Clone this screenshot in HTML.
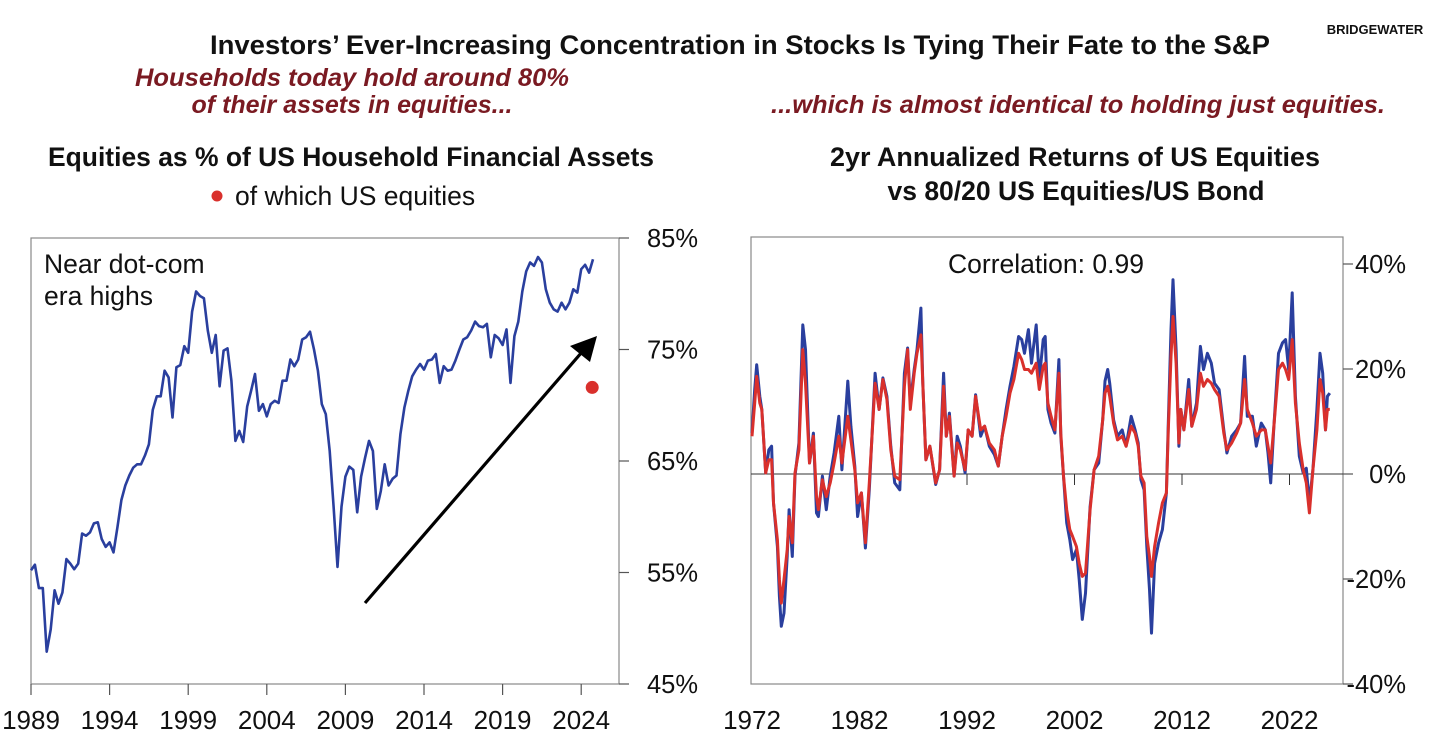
<!DOCTYPE html>
<html><head><meta charset="utf-8">
<style>
body{margin:0;background:#fff;width:1456px;height:747px;overflow:hidden;font-family:"Liberation Sans",sans-serif;}
svg{display:block}
</style></head>
<body>
<svg id="chart" width="1456" height="747" xmlns="http://www.w3.org/2000/svg">
<text x="740" y="54" text-anchor="middle" font-size="26.5" font-weight="bold" fill="#111" textLength="1060" lengthAdjust="spacingAndGlyphs">Investors’ Ever-Increasing Concentration in Stocks Is Tying Their Fate to the S&amp;P</text>
<text x="1375" y="34" text-anchor="middle" font-size="13" font-weight="bold" fill="#111">BRIDGEWATER</text>
<text x="352" y="86" text-anchor="middle" font-size="25" font-weight="bold" font-style="italic" fill="#7a1a22" textLength="434" lengthAdjust="spacingAndGlyphs">Households today hold around 80%</text>
<text x="352" y="113" text-anchor="middle" font-size="25" font-weight="bold" font-style="italic" fill="#7a1a22">of their assets in equities...</text>
<text x="1078" y="113" text-anchor="middle" font-size="25" font-weight="bold" font-style="italic" fill="#7a1a22" textLength="614" lengthAdjust="spacingAndGlyphs">...which is almost identical to holding just equities.</text>
<text x="351" y="166" text-anchor="middle" font-size="26.5" font-weight="bold" fill="#111" textLength="606" lengthAdjust="spacingAndGlyphs">Equities as % of US Household Financial Assets</text>
<circle cx="217" cy="196" r="5.5" fill="#d9302c"/>
<text x="235" y="205" font-size="26.5" fill="#111">of which US equities</text>
<text x="1075" y="166" text-anchor="middle" font-size="26.5" font-weight="bold" fill="#111" textLength="490" lengthAdjust="spacingAndGlyphs">2yr Annualized Returns of US Equities</text>
<text x="1076" y="200" text-anchor="middle" font-size="26.5" font-weight="bold" fill="#111">vs 80/20 US Equities/US Bond</text>
<g id="left"></g>
<g id="right"></g>
</svg>
<script>
// ---- Left chart data (quarterly from 1989 Q1) ----
const leftStartYear = 1989;
const leftValues = [55.2,55.7,53.6,53.6,47.9,49.9,53.4,52.2,53.2,56.2,55.8,55.3,55.8,58.5,58.3,58.6,59.4,59.5,58.0,57.3,57.7,56.8,59.1,61.5,62.8,63.7,64.4,64.7,64.7,65.5,66.5,69.6,70.8,70.8,73.1,72.5,68.9,73.4,73.6,75.3,74.7,78.4,80.2,79.8,79.6,76.7,74.7,76.3,71.7,74.9,75.1,72.2,66.8,67.7,66.7,69.9,71.3,72.8,69.5,70.1,69.0,70.1,70.4,70.2,72.2,72.2,74.1,73.5,74.1,75.9,76.1,76.6,75.0,73.1,70.1,69.2,65.9,60.9,55.5,60.9,63.6,64.5,64.2,60.4,63.6,65.3,66.8,65.9,60.7,62.3,64.7,62.8,63.4,63.7,67.4,69.8,71.3,72.6,73.2,73.7,73.2,74.0,74.1,74.6,72.0,73.5,73.1,73.2,74.0,75.0,75.9,76.1,76.7,77.5,77.1,77.0,77.3,74.3,76.3,76.0,75.4,76.8,72.0,76.2,77.5,80.2,82.0,82.8,82.5,83.3,82.8,80.4,79.2,78.6,78.4,79.2,78.6,79.2,80.4,80.1,82.2,82.6,81.9,83.1];
const usEqYear = [2024.7];
const usEqValue = [71.6];
const leftYTicks = [85,75,65,55,45];
const leftXTicks = [1989,1994,1999,2004,2009,2014,2019,2024];

// ---- Right chart data ----
const rightYears = [1972.00,1972.25,1972.44,1972.73,1972.91,1973.27,1973.56,1973.82,1974.00,1974.36,1974.55,1974.73,1974.98,1975.27,1975.45,1975.75,1976.00,1976.36,1976.73,1976.98,1977.35,1977.71,1978.00,1978.18,1978.55,1978.91,1979.27,1979.64,1980.07,1980.36,1980.91,1981.20,1981.56,1981.82,1982.18,1982.55,1982.91,1983.45,1983.82,1984.18,1984.55,1984.91,1985.27,1985.75,1986.18,1986.47,1986.73,1987.09,1987.35,1987.71,1987.89,1988.18,1988.55,1989.09,1989.45,1989.82,1990.07,1990.36,1990.80,1991.09,1991.38,1991.82,1992.11,1992.47,1992.80,1993.27,1993.64,1994.07,1994.55,1994.91,1995.27,1995.64,1996.00,1996.36,1996.80,1997.09,1997.35,1997.71,1998.00,1998.44,1998.73,1999.09,1999.27,1999.53,1999.82,2000.18,2000.55,2000.73,2000.98,2001.27,2001.56,2001.82,2002.18,2002.44,2002.73,2003.02,2003.45,2003.82,2004.25,2004.62,2004.84,2005.09,2005.27,2005.64,2006.00,2006.44,2006.80,2007.27,2007.64,2007.93,2008.18,2008.47,2008.73,2008.98,2009.16,2009.45,2009.82,2010.18,2010.55,2010.73,2010.98,2011.16,2011.45,2011.71,2011.89,2012.18,2012.62,2012.91,2013.35,2013.71,2014.00,2014.36,2014.73,2015.02,2015.45,2015.89,2016.18,2016.62,2017.09,2017.45,2017.82,2018.07,2018.55,2018.91,2019.38,2019.75,2020.00,2020.25,2020.55,2020.98,2021.35,2021.64,2021.93,2022.25,2022.55,2022.91,2023.27,2023.56,2023.85,2024.18,2024.55,2024.84,2025.09,2025.35,2025.53,2025.75];
const equitiesReturns = [7.8,16.1,20.8,14.8,12.3,0.2,4.6,5.3,-5.5,-13.8,-23.3,-29.0,-26.5,-15.7,-6.8,-15.7,-0.4,5.9,28.4,23.7,2.1,7.8,-7.4,-8.1,-0.4,-6.8,-0.4,4.0,11.0,0.8,17.7,9.1,1.5,-8.1,-3.6,-14.1,-3.0,19.2,12.3,18.3,14.8,5.3,-1.7,-3.0,19.2,24.0,13.5,19.9,23.7,31.6,17.3,2.7,5.3,-2.0,0.8,19.2,7.2,11.6,-0.4,7.2,5.3,0.2,8.4,7.2,15.1,7.2,9.1,5.3,3.7,1.5,7.2,12.3,16.7,20.5,26.2,25.6,23.0,27.5,21.1,28.4,18.0,25.6,26.2,12.3,9.7,7.8,21.8,7.2,-0.4,-9.3,-12.5,-16.3,-14.4,-20.1,-27.7,-22.7,-6.2,0.8,2.1,10.3,17.7,19.9,17.3,10.3,7.2,8.4,5.3,11.0,8.4,5.9,-1.1,-3.0,-13.8,-22.0,-30.3,-17.0,-13.1,-10.6,-3.6,9.7,27.5,37.0,23.7,5.3,12.3,8.4,18.0,9.1,13.5,24.3,19.9,23.0,21.1,17.3,16.1,8.4,4.0,7.2,8.4,9.7,22.4,11.0,11.0,5.3,9.7,8.4,4.0,-1.7,9.1,23.0,25.0,25.6,19.9,34.5,14.8,3.4,0.2,1.1,-5.5,0.8,12.3,23.0,19.2,8.4,14.8,15.4];
const portfolio8020Returns = [7.2,13.5,18.6,13.5,12.3,0.2,2.7,2.7,-5.5,-12.5,-20.1,-24.6,-20.1,-14.4,-8.1,-13.1,0.2,4.6,23.7,17.3,2.1,7.2,-4.3,-6.8,-1.1,-4.3,-1.7,2.1,7.2,2.1,11.0,6.5,0.8,-5.5,-3.6,-13.1,-1.7,17.3,12.3,18.0,14.2,4.6,-0.4,-1.1,16.7,23.7,12.3,19.2,23.0,26.5,17.3,2.7,5.3,-1.7,0.8,16.7,7.2,11.0,-0.4,5.9,4.6,0.8,8.4,7.2,14.8,8.4,9.1,5.9,4.6,1.5,7.2,11.0,15.4,18.0,23.0,21.8,19.9,19.9,19.2,21.1,16.1,20.5,21.1,13.5,11.0,8.4,19.2,7.8,-0.4,-6.8,-10.6,-11.9,-13.8,-17.0,-19.5,-18.9,-6.8,0.8,3.4,10.3,15.4,16.7,14.8,9.7,6.5,7.2,5.3,9.1,7.8,5.3,-0.4,-1.7,-11.9,-15.7,-19.5,-13.8,-9.3,-5.5,-3.6,8.4,22.4,30.0,21.1,5.9,12.3,8.4,16.1,9.1,12.3,19.2,16.7,18.0,17.3,16.1,14.8,7.8,4.6,5.9,7.8,9.7,18.0,12.3,9.7,7.2,8.4,8.4,5.3,2.1,9.1,19.9,21.1,19.9,18.0,25.6,13.5,5.9,0.8,-1.7,-7.4,0.8,8.4,18.0,15.4,8.4,12.3,12.3];
const rightYTicks = [40,20,0,-20,-40];
const rightXTicks = [1972,1982,1992,2002,2012,2022];

const NS = "http://www.w3.org/2000/svg";
function mk(tag, attrs, parent){const e=document.createElementNS(NS,tag);for(const k in attrs)e.setAttribute(k,attrs[k]);parent.appendChild(e);return e;}

// Left axes
const L = {x0:31, x1:619, y0:238, y1:684};
const lx = y => L.x0 + (y - 1989) * 15.72;
const ly = v => L.y0 + (85 - v) * (L.y1 - L.y0) / 40;
const gl = document.getElementById('left');
let e;
e = mk('rect',{x:L.x0,y:L.y0,width:L.x1-L.x0,height:L.y1-L.y0,fill:'none',stroke:'#888','stroke-width':1.2},gl);


leftYTicks.forEach(t=>{
  const y=ly(t);
  e=mk('line',{x1:L.x1,x2:L.x1+10,y1:y,y2:y,stroke:'#555','stroke-width':1.2},gl);
  
  
  e=mk('text',{x:698,y:y+9,'text-anchor':'end','font-size':25.5,fill:'#111'},gl);
  e.textContent=t+'%';
  
  
});
leftXTicks.forEach(t=>{
  const x=lx(t);
  e=mk('line',{x1:x,x2:x,y1:L.y1,y2:L.y1+11,stroke:'#555','stroke-width':1.2},gl);
  
  
  e=mk('text',{x:x,y:729,'text-anchor':'middle','font-size':26,fill:'#111'},gl);
  e.textContent=t;
  
  
});
e=mk('polyline',{points:leftValues.map((v,i)=>lx(leftStartYear+i*0.25).toFixed(1)+','+ly(v).toFixed(1)).join(' '),fill:'none',stroke:'#2a3f9e','stroke-width':2.6,'stroke-linejoin':'round'},gl);


usEqYear.forEach((yr,i)=>{
  e=mk('circle',{cx:lx(yr),cy:ly(usEqValue[i]),r:6.5,fill:'#d9302c'},gl);
  
  
});
e=mk('line',{x1:365,y1:603,x2:582,y2:352,stroke:'#000','stroke-width':3.2},gl);


e=mk('polygon',{points:'597,336 570,346 590,362',fill:'#000'},gl);


e=mk('text',{x:44,y:273,'font-size':26.5,fill:'#111'},gl);
e.textContent='Near dot-com';


e=mk('text',{x:44,y:305,'font-size':26.5,fill:'#111'},gl);
e.textContent='era highs';



// Right axes
const R = {x0:751, x1:1343, y0:237, y1:684};
const rx = y => 752 + (y - 1972) * 10.75;
const ry = v => 474 - v * 5.25;
const gr = document.getElementById('right');
e=mk('rect',{x:R.x0,y:R.y0,width:R.x1-R.x0,height:R.y1-R.y0,fill:'none',stroke:'#888','stroke-width':1.2},gr);


e=mk('line',{x1:R.x0,x2:R.x1+10,y1:ry(0),y2:ry(0),stroke:'#333','stroke-width':1},gr);


rightYTicks.forEach(t=>{
  const y=ry(t);
  e=mk('line',{x1:R.x1,x2:R.x1+10,y1:y,y2:y,stroke:'#555','stroke-width':1.2},gr);
  
  
  e=mk('text',{x:1406,y:y+9,'text-anchor':'end','font-size':25.5,fill:'#111'},gr);
  e.textContent=t+'%';
  
  
});
rightXTicks.forEach(t=>{
  const x=rx(t);
  if(t>1982){
    e=mk('line',{x1:x,x2:x,y1:ry(0),y2:ry(0)+11,stroke:'#333','stroke-width':1},gr);
    
    
  }
  e=mk('text',{x:x,y:729,'text-anchor':'middle','font-size':26,fill:'#111'},gr);
  e.textContent=t;
  
  
});
e=mk('polyline',{points:rightYears.map((y,i)=>rx(y).toFixed(1)+','+ry(equitiesReturns[i]).toFixed(1)).join(' '),fill:'none',stroke:'#2a3f9e','stroke-width':3,'stroke-linejoin':'round'},gr);


e=mk('polyline',{points:rightYears.map((y,i)=>rx(y).toFixed(1)+','+ry(portfolio8020Returns[i]).toFixed(1)).join(' '),fill:'none',stroke:'#d9302c','stroke-width':3,'stroke-linejoin':'round'},gr);


e=mk('text',{x:1046,y:273,'text-anchor':'middle','font-size':26.5,fill:'#111'},gr);
e.textContent='Correlation: 0.99';


</script>
</body></html>
